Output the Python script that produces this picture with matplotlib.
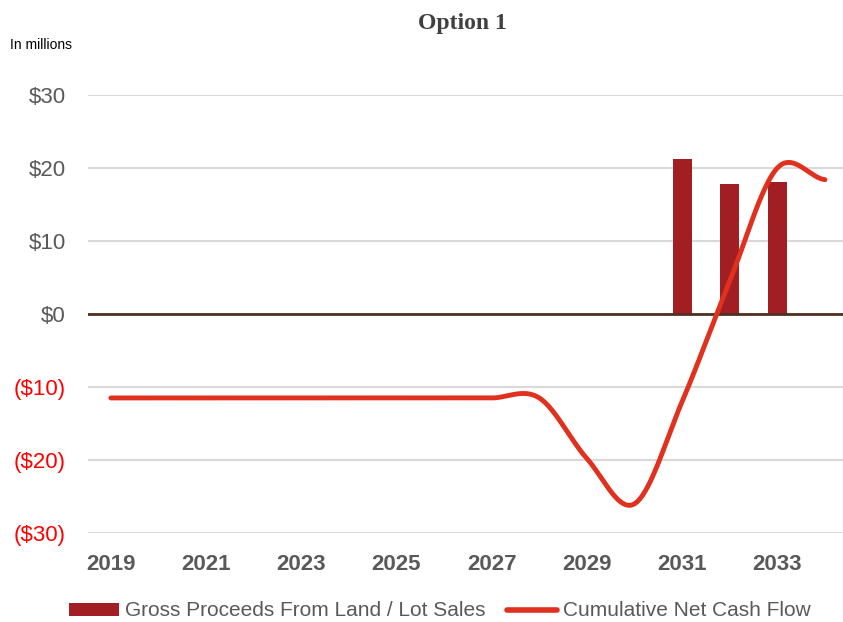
import numpy as np
import matplotlib
matplotlib.use("Agg")
import matplotlib.pyplot as plt
from matplotlib.lines import Line2D
from matplotlib.patches import Patch

years = list(range(2019, 2035))
gross_proceeds = [0, 0, 0, 0, 0, 0, 0, 0, 0, 0, 0, 0, 21.2, 17.8, 18.1, 0]
cumulative_ncf = [-11.5, -11.5, -11.5, -11.5, -11.5, -11.5, -11.5, -11.5, -11.5,
                  -11.5, -19.8, -26.0, -12.0, 4.5, 20.0, 18.4]
y_ticks = [-30, -20, -10, 0, 10, 20, 30]
y_labels = ["($30)", "($20)", "($10)", "$0", "$10", "$20", "$30"]
x_ticks = [2019, 2021, 2023, 2025, 2027, 2029, 2031, 2033]

def catmull_rom(x, y, n=40):
    x = np.asarray(x, float); y = np.asarray(y, float)
    xs, ys = [], []
    for i in range(len(x) - 1):
        y0 = y[i - 1] if i > 0 else y[i]
        y3 = y[i + 2] if i + 2 < len(y) else y[i + 1]
        m1 = (y[i + 1] - y0) / 2.0
        m2 = (y3 - y[i]) / 2.0
        t = np.linspace(0, 1, n, endpoint=False)
        h00 = 2*t**3 - 3*t**2 + 1
        h10 = t**3 - 2*t**2 + t
        h01 = -2*t**3 + 3*t**2
        h11 = t**3 - t**2
        xs.append(x[i] + t*(x[i+1]-x[i]))
        ys.append(h00*y[i] + h10*m1 + h01*y[i+1] + h11*m2)
    xs.append([x[-1]]); ys.append([y[-1]])
    return np.concatenate(xs), np.concatenate(ys)

plt.rcParams['font.family'] = ['Liberation Sans', 'DejaVu Sans']
fig = plt.figure(figsize=(8.43, 6.22), dpi=100)
ax = fig.add_axes([88/843, 89/622, 1 - 88/843, 438/622])

bar_vals = [v if v != 0 else np.nan for v in gross_proceeds]
ax.bar(years, bar_vals, width=0.4, color='#a11f22', zorder=2)
sx, sy = catmull_rom(years, cumulative_ncf)
ax.plot(sx, sy, color='#e0301e', lw=3.5, solid_capstyle='round', zorder=3, clip_on=False)
ax.axhline(0, color='#4f3020', lw=2, zorder=2.5)

ax.set_ylim(-30, 30)
ax.set_xlim(2018.52, 2034.38)
ax.set_yticks(y_ticks)
ax.set_yticklabels(y_labels)
for lbl, v in zip(ax.get_yticklabels(), y_ticks):
    lbl.set_color('#ff0000' if v < 0 else '#595959')
    lbl.set_fontsize(16)
ax.set_xticks(x_ticks)
ax.set_xticklabels([str(x) for x in x_ticks], fontsize=16, fontweight='bold', color='#595959')
ax.tick_params(axis='both', length=0)
ax.tick_params(axis='y', pad=16)
ax.tick_params(axis='x', pad=15)
ax.grid(axis='y', color='#d9d9d9', lw=1.5, zorder=0)
ax.set_axisbelow(True)
for s in ax.spines.values():
    s.set_visible(False)

fig.text(462/843, 1 - 23/622, "Option 1", ha='center', va='center',
         family=['Liberation Serif', 'DejaVu Serif'], fontweight='bold', fontsize=17, color='#404040')
fig.text(10/843, 1 - 45/622, "In millions", ha='left', va='center', fontsize=10, color='#000000')

handles = [Patch(facecolor='#a11f22', edgecolor='none'),
           Line2D([0], [0], color='#e0301e', lw=4, solid_capstyle='round')]
fig.legend(handles, ["Gross Proceeds From Land / Lot Sales", "Cumulative Net Cash Flow"],
           loc='center', bbox_to_anchor=(440/843, 1 - 611/622), ncol=2, frameon=False,
           fontsize=15, labelcolor='#595959', handlelength=2.4, handletextpad=0.3,
           columnspacing=1.0, handleheight=0.6)

fig.savefig("out.png", dpi=100)
